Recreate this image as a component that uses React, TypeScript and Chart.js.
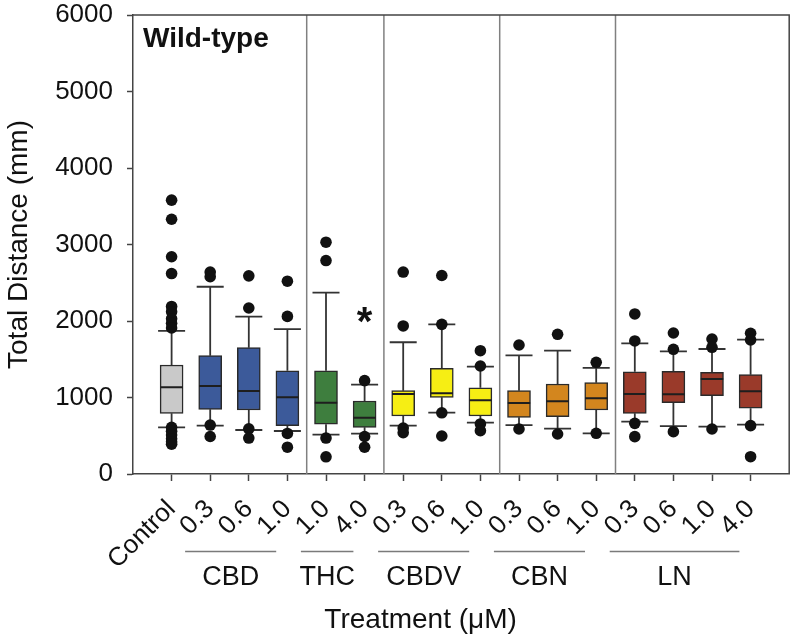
import React, { useEffect, useRef } from 'react';
import { Chart, registerables } from 'chart.js';

Chart.register(...registerables);

// ---------- data ----------
const categories = ['Control', '0.3', '0.6', '1.0', '1.0', '4.0', '0.3', '0.6', '1.0', '0.3', '0.6', '1.0', '0.3', '0.6', '1.0', '4.0'];
const treatments = ['Control', 'CBD', 'CBD', 'CBD', 'THC', 'THC', 'CBDV', 'CBDV', 'CBDV', 'CBN', 'CBN', 'CBN', 'LN', 'LN', 'LN', 'LN'];

const whiskerLow = [610, 632, 575, 562, 514, 527, 632, 802, 671, 640, 592, 532, 684, 627, 619, 645];
const q1 = [793, 845, 837, 632, 650, 610, 758, 1002, 758, 741, 749, 837, 793, 932, 1024, 859];
const median = [1133, 1150, 1085, 1002, 932, 736, 1046, 1054, 963, 928, 950, 989, 1046, 1041, 1242, 1081];
const q3 = [1425, 1547, 1651, 1350, 1350, 954, 1089, 1381, 1128, 1089, 1176, 1194, 1337, 1342, 1329, 1298];
const whiskerHigh = [1870, 2448, 2057, 1895, 2370, 1167, 1722, 1956, 1403, 1551, 1612, 1386, 1708, 1604, 1634, 1756];

const outliers: number[][] = [
  [3580, 3330, 2840, 2620, 2190, 2120, 2030, 1970, 1910, 610, 560, 510, 460, 420, 390],
  [2640, 2580, 640, 490],
  [2590, 2170, 590, 470],
  [2520, 2060, 530, 350],
  [3030, 2790, 470, 225],
  [1220, 490, 350],
  [2640, 1935, 600, 540],
  [2595, 1956, 800, 497],
  [1612, 1412, 654, 566],
  [1686, 588],
  [1826, 523],
  [1460, 532],
  [2092, 1739, 662, 488],
  [1843, 1630, 553],
  [1765, 1656, 588],
  [1839, 1752, 632, 226],
];

const yTicks = [0, 1000, 2000, 3000, 4000, 5000, 6000];
const groupNames = ['CBD', 'THC', 'CBDV', 'CBN', 'LN'];
const significantIndex = 5; // THC 4.0 marked with *
const starValue = 2120;

const treatmentColors: Record<string, string> = {
  Control: '#c9c9c9',
  CBD: '#3c5a9a',
  THC: '#3e7e3e',
  CBDV: '#f6ee14',
  CBN: '#d3861e',
  LN: '#9a3a2a',
};

const FONT = "'Liberation Sans', Arial, Helvetica, sans-serif";

export default function App() {
  const ref = useRef<HTMLCanvasElement | null>(null);

  useEffect(() => {
    const canvas = ref.current;
    if (!canvas) return;

    const xs = categories.map((_, i) => i + 1);
    const boxHalf = 0.29;
    const capHalf = 0.35;

    const boxes = xs.map((x, i) => ({ x, y: [q1[i], q3[i]] }));
    const medians: any[] = [];
    xs.forEach((x, i) => {
      medians.push({ x: x - boxHalf, y: median[i] }, { x: x + boxHalf, y: median[i] }, { x, y: null });
    });
    const whiskers: any[] = [];
    xs.forEach((x, i) => {
      whiskers.push(
        { x, y: whiskerHigh[i] }, { x, y: q3[i] }, { x, y: null },
        { x, y: q1[i] }, { x, y: whiskerLow[i] }, { x, y: null },
        { x: x - capHalf, y: whiskerHigh[i] }, { x: x + capHalf, y: whiskerHigh[i] }, { x, y: null },
        { x: x - capHalf, y: whiskerLow[i] }, { x: x + capHalf, y: whiskerLow[i] }, { x, y: null },
      );
    });
    const points: any[] = [];
    xs.forEach((x, i) => outliers[i].forEach((v) => points.push({ x, y: v })));

    const groups = groupNames.map((name) => {
      const idx = treatments.map((t, i) => (t === name ? i : -1)).filter((i) => i >= 0);
      return { name, first: idx[0] + 1, last: idx[idx.length - 1] + 1 };
    });
    const separators: number[] = [];
    for (let i = 1; i < treatments.length; i++) {
      if (treatments[i] !== treatments[i - 1] && treatments[i - 1] !== 'Control') separators.push(i + 0.5);
    }

    const annotations = {
      id: 'annotations',
      beforeDatasetsDraw(chart: any) {
        const { ctx, chartArea: a, scales } = chart;
        const x = scales.x;
        ctx.save();
        ctx.strokeStyle = '#808080';
        ctx.lineWidth = 1.5;
        separators.forEach((v) => {
          const px = x.getPixelForValue(v);
          ctx.beginPath();
          ctx.moveTo(px, a.top);
          ctx.lineTo(px, a.bottom);
          ctx.stroke();
        });
        ctx.strokeStyle = '#444';
        ctx.beginPath();
        ctx.moveTo(a.left, a.top);
        ctx.lineTo(a.right, a.top);
        ctx.lineTo(a.right, a.bottom);
        ctx.stroke();
        ctx.restore();
      },
      afterDraw(chart: any) {
        const { ctx, chartArea: a, scales } = chart;
        const x = scales.x;
        const y = scales.y;
        ctx.save();
        ctx.fillStyle = '#111';
        ctx.font = `bold 28px ${FONT}`;
        ctx.textAlign = 'left';
        ctx.textBaseline = 'alphabetic';
        ctx.fillText('Wild-type', a.left + 10, a.top + 32);
        ctx.font = `bold 40px ${FONT}`;
        ctx.textAlign = 'center';
        ctx.fillText('*', x.getPixelForValue(significantIndex + 1), y.getPixelForValue(starValue) + 23);
        groups.forEach((g) => {
          const x0 = x.getPixelForValue(g.first - 0.65);
          const x1 = x.getPixelForValue(g.last - 0.29);
          ctx.strokeStyle = '#7a7a7a';
          ctx.lineWidth = 1.5;
          ctx.beginPath();
          ctx.moveTo(x0, a.bottom + 77.5);
          ctx.lineTo(x1, a.bottom + 77.5);
          ctx.stroke();
          ctx.font = `27px ${FONT}`;
          ctx.textAlign = 'center';
          ctx.fillText(g.name, (x0 + x1) / 2, a.bottom + 111);
        });
        ctx.font = `28px ${FONT}`;
        ctx.textAlign = 'center';
        ctx.fillText('Treatment (\u03bcM)', x.getPixelForValue(7.45), a.bottom + 154);
        ctx.restore();
      },
    };

    const padding = { left: 0, right: 5, top: 15, bottom: 0 };

    const chart = new Chart(canvas, {
      type: 'bar',
      data: {
        datasets: [
          {
            type: 'scatter',
            data: points,
            pointRadius: 5.8,
            pointHoverRadius: 5.8,
            backgroundColor: '#111',
            borderWidth: 0,
            order: 0,
          } as any,
          {
            type: 'line',
            data: medians,
            borderColor: '#1e1e1e',
            borderWidth: 2,
            pointRadius: 0,
            pointHoverRadius: 0,
            spanGaps: false,
            order: 1,
          } as any,
          {
            type: 'bar',
            data: boxes,
            backgroundColor: treatments.map((t) => treatmentColors[t]),
            borderColor: '#2a2a2a',
            borderWidth: 1.5,
            borderSkipped: false,
            barThickness: 23,
            order: 2,
          } as any,
          {
            type: 'line',
            data: whiskers,
            borderColor: '#333',
            borderWidth: 1.8,
            pointRadius: 0,
            pointHoverRadius: 0,
            spanGaps: false,
            order: 3,
          } as any,
        ],
      },
      options: {
        responsive: false,
        animation: false,
        layout: { padding },
        plugins: { legend: { display: false }, tooltip: { enabled: false } },
        scales: {
          x: {
            type: 'linear',
            offset: false,
            min: 0,
            max: categories.length + 1,
            afterBuildTicks: (scale: any) => {
              scale.ticks = xs.map((v) => ({ value: v }));
            },
            afterFit: (scale: any) => {
              scale.height = 165;
            },
            ticks: {
              autoSkip: false,
              minRotation: 45,
              maxRotation: 45,
              padding: 13,
              color: '#111',
              font: { family: FONT, size: 26 },
              callback: (v: any) => categories[Number(v) - 1] ?? '',
            },
            grid: { offset: false, drawOnChartArea: false, drawTicks: true, tickLength: 7, color: '#444', tickWidth: 1.5 },
            border: { display: true, color: '#444', width: 1.5 },
          },
          y: {
            type: 'linear',
            min: 0,
            max: 6000,
            afterBuildTicks: (scale: any) => {
              scale.ticks = yTicks.map((v) => ({ value: v }));
            },
            afterFit: (scale: any) => {
              scale.width = 133;
            },
            ticks: {
              padding: 14,
              color: '#111',
              font: { family: FONT, size: 26, lineHeight: 0.05 },
              callback: (v: any) => String(v),
            },
            grid: { drawOnChartArea: false, drawTicks: true, tickLength: 6, color: '#444', tickWidth: 1.5 },
            border: { display: true, color: '#444', width: 1.5 },
            title: {
              display: true,
              text: 'Total Distance (mm)',
              color: '#111',
              font: { family: FONT, size: 28 },
              padding: { top: 2, bottom: 0 },
            },
          },
        },
      } as any,
      plugins: [annotations],
    });

    // nudge layout padding so the plot area lands on the reference frame
    const target = { left: 133, top: 15, right: 790, bottom: 474 };
    for (let k = 0; k < 3; k++) {
      const ca = chart.chartArea;
      const dTop = target.top - ca.top;
      const dLeft = target.left - ca.left;
      const dRight = ca.right - target.right;
      const dBottom = ca.bottom - target.bottom;
      if (Math.abs(dTop) + Math.abs(dLeft) + Math.abs(dRight) + Math.abs(dBottom) < 0.5) break;
      padding.top += dTop;
      padding.left += dLeft;
      padding.right += dRight;
      padding.bottom += dBottom;
      (chart.options as any).layout.padding = { ...padding };
      chart.update();
    }

    return () => chart.destroy();
  }, []);

  return (
    <div style={{ position: 'absolute', left: 0, top: 0, width: 795, height: 639, background: '#fff' }}>
      <canvas ref={ref} width={795} height={639} style={{ display: 'block' }} />
    </div>
  );
}
